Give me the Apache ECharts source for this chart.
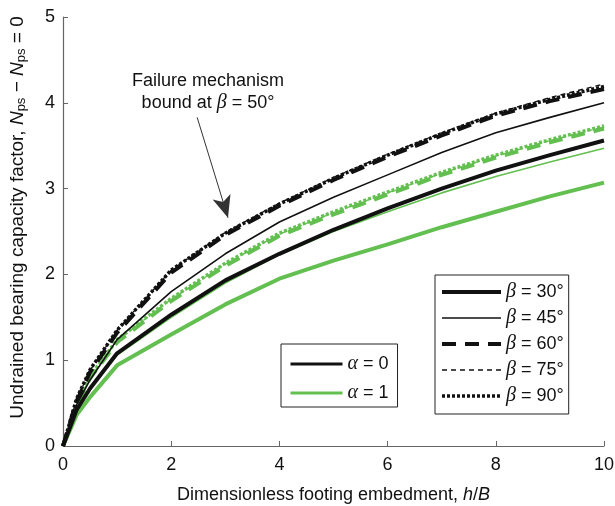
<!DOCTYPE html>
<html>
<head>
<meta charset="utf-8">
<script src="https://cdn.jsdelivr.net/npm/echarts@6/dist/echarts.min.js"></script>
<style>
  html, body { margin: 0; padding: 0; background: #fff; }
  #chart { width: 615px; height: 506px; }
</style>
</head>
<body>
<div id="chart"></div>
<script>
// h/B values where the curves were read
var xVals = [0, 0.25, 0.5, 1, 2, 3, 4, 5, 6, 7, 8, 9, 10];

// alpha = 0 (black)
var a0b30 = [0, 0.42, 0.67, 1.08, 1.53, 1.93, 2.24, 2.52, 2.77, 3.00, 3.21, 3.39, 3.56];
var a0b45 = [0, 0.48, 0.77, 1.24, 1.80, 2.24, 2.61, 2.90, 3.16, 3.42, 3.65, 3.83, 4.00];
var a0b60 = [0, 0.52, 0.86, 1.32, 2.02, 2.46, 2.80, 3.10, 3.37, 3.62, 3.85, 4.02, 4.16];
var a0b75 = [0, 0.54, 0.88, 1.35, 2.05, 2.49, 2.83, 3.13, 3.40, 3.65, 3.88, 4.06, 4.22];
var a0b90 = [0, 0.55, 0.89, 1.35, 2.05, 2.48, 2.82, 3.12, 3.39, 3.64, 3.87, 4.04, 4.19];

// alpha = 1 (green)
var a1b30 = [0, 0.36, 0.57, 0.94, 1.30, 1.65, 1.95, 2.16, 2.35, 2.55, 2.73, 2.91, 3.07];
var a1b45 = [0, 0.42, 0.66, 1.06, 1.50, 1.90, 2.23, 2.50, 2.73, 2.95, 3.14, 3.31, 3.47];
var a1b60 = [0, 0.47, 0.79, 1.21, 1.69, 2.10, 2.45, 2.70, 2.93, 3.16, 3.36, 3.54, 3.70];
var a1b75 = [0, 0.48, 0.80, 1.23, 1.71, 2.12, 2.47, 2.72, 2.95, 3.18, 3.38, 3.56, 3.72];
var a1b90 = [0, 0.49, 0.81, 1.24, 1.72, 2.13, 2.48, 2.73, 2.96, 3.19, 3.39, 3.57, 3.73];

var xTicks = [0, 2, 4, 6, 8, 10];
var yTicks = [0, 1, 2, 3, 4, 5];

var alphaNames = ['α = 0', 'α = 1'];
var betaNames = ['β = 30°', 'β = 45°', 'β = 60°', 'β = 75°', 'β = 90°'];

// arrow of the annotation, in data units
var arrowFrom = [2.48, 3.83];
var arrowTo = [3.05, 2.66];

var BLACK = '#111';
var GREEN = '#62bf50';

// line style for each beta
var betaStyle = [
  { width: 4, type: 'solid' },
  { width: 1.6, type: 'solid' },
  { width: 4, type: [14, 9] },
  { width: 1.4, type: [5, 4] },
  { width: 3.5, type: [3, 2] }
];

var chart = echarts.init(document.getElementById('chart'));

function pairs(ys) {
  return ys.map(function (y, i) { return [xVals[i], y]; });
}

function curve(name, ys, color, st) {
  return {
    name: name,
    type: 'line',
    data: pairs(ys),
    symbol: 'none',
    smooth: false,
    silent: true,
    animation: false,
    lineStyle: { color: color, width: st.width, type: st.type }
  };
}

var series = [];
var blackSets = [a0b30, a0b45, a0b60, a0b75, a0b90];
var greenSets = [a1b30, a1b45, a1b60, a1b75, a1b90];
greenSets.forEach(function (ys, i) {
  series.push(curve('g' + i, ys, GREEN, betaStyle[i]));
});
blackSets.forEach(function (ys, i) {
  series.push(curve('k' + i, ys, BLACK, betaStyle[i]));
});

// legend-only series
alphaNames.forEach(function (n, i) {
  var c = i === 0 ? BLACK : GREEN;
  series.push({
    name: n, type: 'line', data: [], symbol: 'none',
    itemStyle: { color: c },
    lineStyle: { color: c, width: 3 }
  });
});
betaNames.forEach(function (n, i) {
  series.push({
    name: n, type: 'line', data: [], symbol: 'none',
    itemStyle: { color: BLACK },
    lineStyle: { color: BLACK, width: betaStyle[i].width, type: betaStyle[i].type }
  });
});

// annotation arrow
series[series.length - 1].markLine = {
  silent: true,
  animation: false,
  label: { show: false },
  lineStyle: { color: '#333', width: 1, type: 'solid' },
  data: [[
    { coord: arrowFrom, symbol: 'none' },
    { coord: arrowTo, symbol: 'arrow', symbolSize: [14, 22] }
  ]]
};

var legendText = {
  color: '#111',
  fontSize: 18,
  lineHeight: 16,
  fontFamily: 'Liberation Sans',
  rich: {
    g: { fontSize: 20, lineHeight: 16, fontStyle: 'italic', fontFamily: 'Liberation Serif', color: '#111' }
  }
};
function legendFmt(name) {
  return '{g|' + name.charAt(0) + '}' + name.slice(1);
}

var option = {
  animation: false,
  grid: { left: 63, right: 11, top: 17, bottom: 60, outerBoundsMode: 'none' },
  xAxis: {
    type: 'value',
    min: 0,
    max: 10,
    interval: 2,
    name: 'Dimensionless footing embedment, {i|h}/{i|B}',
    nameLocation: 'middle',
    nameGap: 40,
    nameTextStyle: {
      color: '#111', fontSize: 18, fontFamily: 'Liberation Sans',
      rich: { i: { fontStyle: 'italic', fontSize: 18, fontFamily: 'Liberation Sans', color: '#111' } }
    },
    splitLine: { show: false },
    axisLine: { lineStyle: { color: '#666', width: 1.2 } },
    axisTick: { inside: true, length: 5, lineStyle: { color: '#666' } },
    axisLabel: {
      color: '#111', fontSize: 18, fontFamily: 'Liberation Sans', margin: 10,
      formatter: function (v) { return xTicks.indexOf(v) >= 0 ? String(v) : ''; }
    }
  },
  yAxis: {
    type: 'value',
    min: 0,
    max: 5,
    interval: 1,
    name: 'Undrained bearing capacity factor, {i|N}{s|ps} − {i|N}{s|ps} = 0',
    nameLocation: 'middle',
    nameGap: 35,
    nameRotate: 90,
    nameTextStyle: {
      color: '#111', fontSize: 19, fontFamily: 'Liberation Sans',
      padding: [0, 0, 0, 28],
      rich: {
        i: { fontStyle: 'italic', fontSize: 19, fontFamily: 'Liberation Sans', color: '#111' },
        s: { fontSize: 13, fontFamily: 'Liberation Sans', color: '#111', verticalAlign: 'bottom', padding: [8, 0, 0, 0] }
      }
    },
    splitLine: { show: false },
    axisLine: { show: true, lineStyle: { color: '#666', width: 1.2 } },
    axisTick: { show: true, inside: true, length: 5, lineStyle: { color: '#666' } },
    axisLabel: {
      color: '#111', fontSize: 18, fontFamily: 'Liberation Sans', margin: 8,
      formatter: function (v) { return yTicks.indexOf(v) >= 0 ? String(v) : ''; }
    }
  },
  legend: [
    {
      data: alphaNames.map(function (n, i) {
        return {
          name: n,
          itemStyle: { opacity: 0 },
          lineStyle: { color: i === 0 ? BLACK : GREEN, width: 3 }
        };
      }),
      orient: 'vertical',
      left: 281,
      top: 344,
      itemWidth: 52,
      itemHeight: 16,
      itemGap: 9,
      padding: [10, 9, 4, 8],
      borderColor: '#222',
      borderWidth: 1,
      selectedMode: false,
      textStyle: legendText,
      formatter: legendFmt
    },
    {
      data: betaNames.map(function (n, i) {
        return {
          name: n,
          itemStyle: { opacity: 0 },
          lineStyle: { color: BLACK, width: betaStyle[i].width, type: betaStyle[i].type }
        };
      }),
      orient: 'vertical',
      left: 435,
      top: 275,
      itemWidth: 59,
      itemHeight: 16,
      itemGap: 6,
      padding: [7, 5, 8, 5],
      borderColor: '#222',
      borderWidth: 1,
      selectedMode: false,
      textStyle: legendText,
      formatter: legendFmt
    }
  ],
  graphic: [
    {
      type: 'text',
      x: 208,
      y: 70,
      silent: true,
      style: {
        text: 'Failure mechanism\nbound at {b|β} = 50°',
        align: 'center',
        fill: '#111',
        font: '18px "Liberation Sans"',
        lineHeight: 22,
        rich: {
          b: { fontStyle: 'italic', fontSize: 20, fontFamily: 'Liberation Serif', fill: '#111' }
        }
      }
    }
  ],
  series: series
};

chart.setOption(option);
</script>
</body>
</html>
